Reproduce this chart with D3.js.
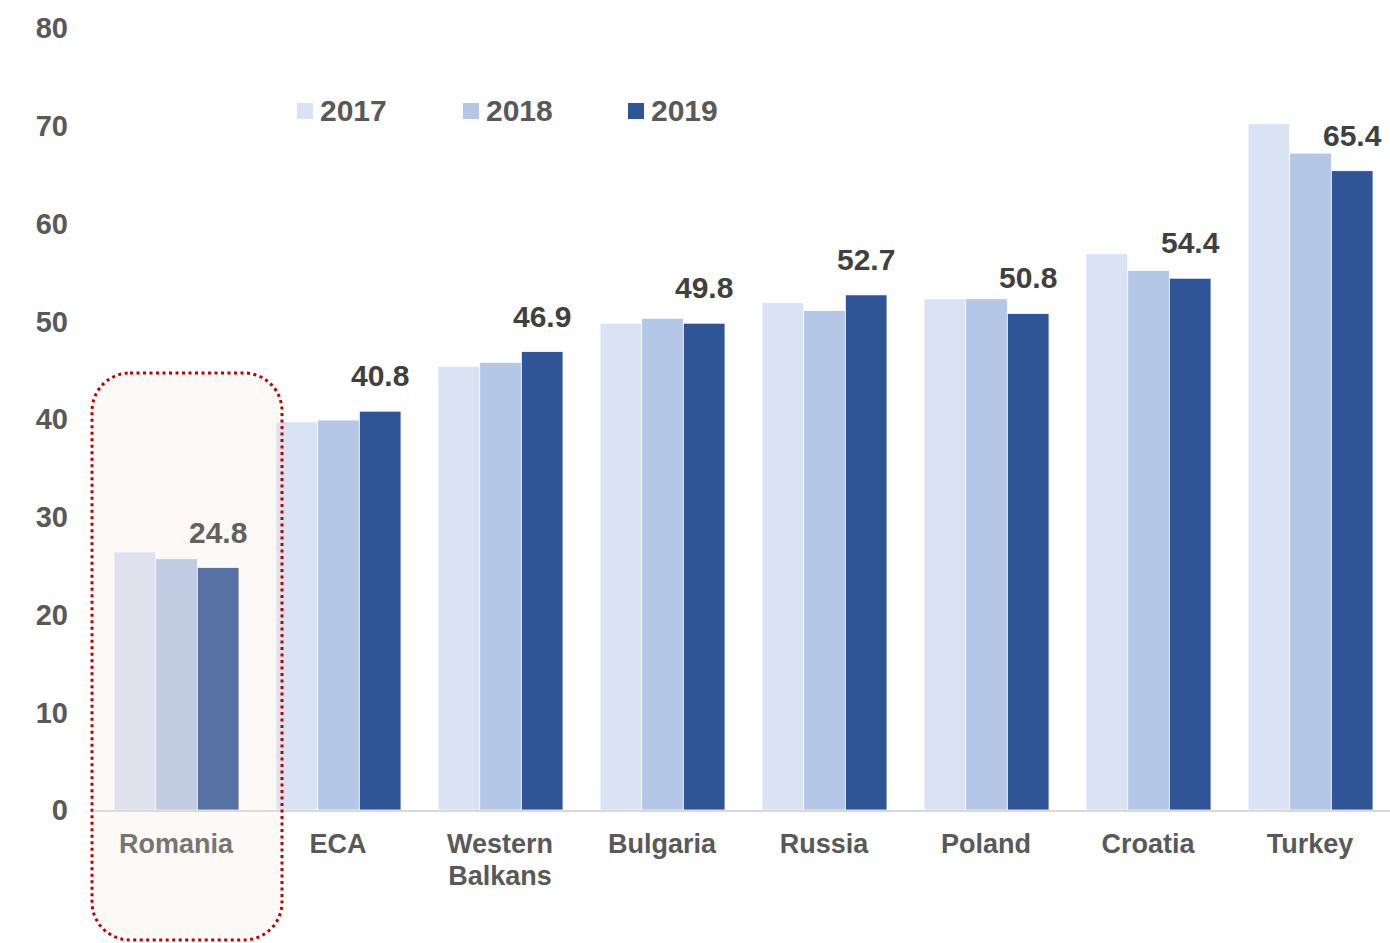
<!DOCTYPE html>
<html>
<head>
<meta charset="utf-8">
<script src="https://cdn.jsdelivr.net/npm/d3@7"></script>
<style>
  body { margin: 0; background: #fff; }
  svg text { font-family: "Liberation Sans", Arial, sans-serif; font-weight: bold; }
</style>
</head>
<body>
<svg width="1390" height="943"></svg>
<script>
// data
const categories = ['Romania', 'ECA', 'Western Balkans', 'Bulgaria', 'Russia', 'Poland', 'Croatia', 'Turkey'];
const years = ['2017', '2018', '2019'];
const v2017 = [26.4, 39.7, 45.4, 49.8, 51.9, 52.3, 56.9, 70.2];
const v2018 = [25.7, 39.9, 45.8, 50.3, 51.1, 52.3, 55.2, 67.2];
const v2019 = [24.8, 40.8, 46.9, 49.8, 52.7, 50.8, 54.4, 65.4];
const yTicks = [0, 10, 20, 30, 40, 50, 60, 70, 80];

const colors = ['#dae3f3', '#b4c7e7', '#2f5597'];
const series = [v2017, v2018, v2019];

const svg = d3.select('svg');

const x = d3.scaleBand().domain(categories).range([95, 1391]).paddingInner(0).paddingOuter(0);
const x1 = d3.scaleBand().domain(years).range([19, x.bandwidth() - 18]);
const y = d3.scaleLinear().domain([0, 80]).range([810, 28]);

// y tick labels
svg.append('g')
  .selectAll('text')
  .data(yTicks)
  .join('text')
  .attr('x', 68)
  .attr('y', d => y(d))
  .attr('dy', '0.36em')
  .attr('text-anchor', 'end')
  .attr('fill', '#595959')
  .style('font-size', '29px')
  .text(d => d);

// bars
const groups = svg.append('g')
  .selectAll('g')
  .data(categories)
  .join('g')
  .attr('transform', d => 'translate(' + x(d) + ',0)');

groups.selectAll('rect')
  .data((c, i) => years.map((yr, k) => ({ yr: yr, k: k, v: series[k][i] })))
  .join('rect')
  .attr('x', d => x1(d.yr))
  .attr('width', x1.bandwidth())
  .attr('y', d => y(d.v))
  .attr('height', d => y(0) - y(d.v))
  .attr('fill', d => colors[d.k])
  .attr('stroke', '#fff')
  .attr('stroke-width', 0.8);

// value labels over 2019 bars
svg.append('g')
  .selectAll('text')
  .data(categories)
  .join('text')
  .attr('x', (c) => x(c) + x1('2019') + x1.bandwidth() / 2)
  .attr('y', (c, i) => y(v2019[i]) - 25)
  .attr('text-anchor', 'middle')
  .attr('fill', '#404040')
  .style('font-size', '30px')
  .text((c, i) => v2019[i].toFixed(1));

// x axis line
svg.append('line')
  .attr('x1', 95).attr('x2', 1391)
  .attr('y1', y(0) + 1).attr('y2', y(0) + 1)
  .attr('stroke', '#d9d9d9')
  .attr('stroke-width', 2);

// category labels
svg.append('g')
  .selectAll('text')
  .data(categories)
  .join('text')
  .attr('x', c => x(c) + x.bandwidth() / 2)
  .attr('y', 853)
  .attr('text-anchor', 'middle')
  .attr('fill', '#595959')
  .style('font-size', '27px')
  .each(function (c) {
    const t = d3.select(this);
    const parts = c === 'Western Balkans' ? ['Western', 'Balkans'] : [c];
    parts.forEach((p, i) => {
      t.append('tspan').attr('x', x(c) + x.bandwidth() / 2).attr('dy', i ? 32 : 0).text(p);
    });
  });

// legend
const legend = svg.append('g')
  .selectAll('g')
  .data(years)
  .join('g')
  .attr('transform', (d, i) => 'translate(' + [297, 463, 628][i] + ',103)');

legend.append('rect')
  .attr('width', 16).attr('height', 16)
  .attr('fill', (d, i) => colors[i]);

legend.append('text')
  .attr('x', 23).attr('y', 18)
  .attr('fill', '#595959')
  .style('font-size', '30px')
  .text(d => d);

// highlight box round Romania
svg.append('rect')
  .attr('x', 92).attr('y', 373)
  .attr('width', 190).attr('height', 567)
  .attr('rx', 38).attr('ry', 38)
  .attr('fill', 'rgb(245,225,210)')
  .attr('fill-opacity', 0.2)
  .attr('stroke', '#c00000')
  .attr('stroke-width', 3)
  .attr('stroke-dasharray', '3 3.5');
</script>
</body>
</html>
